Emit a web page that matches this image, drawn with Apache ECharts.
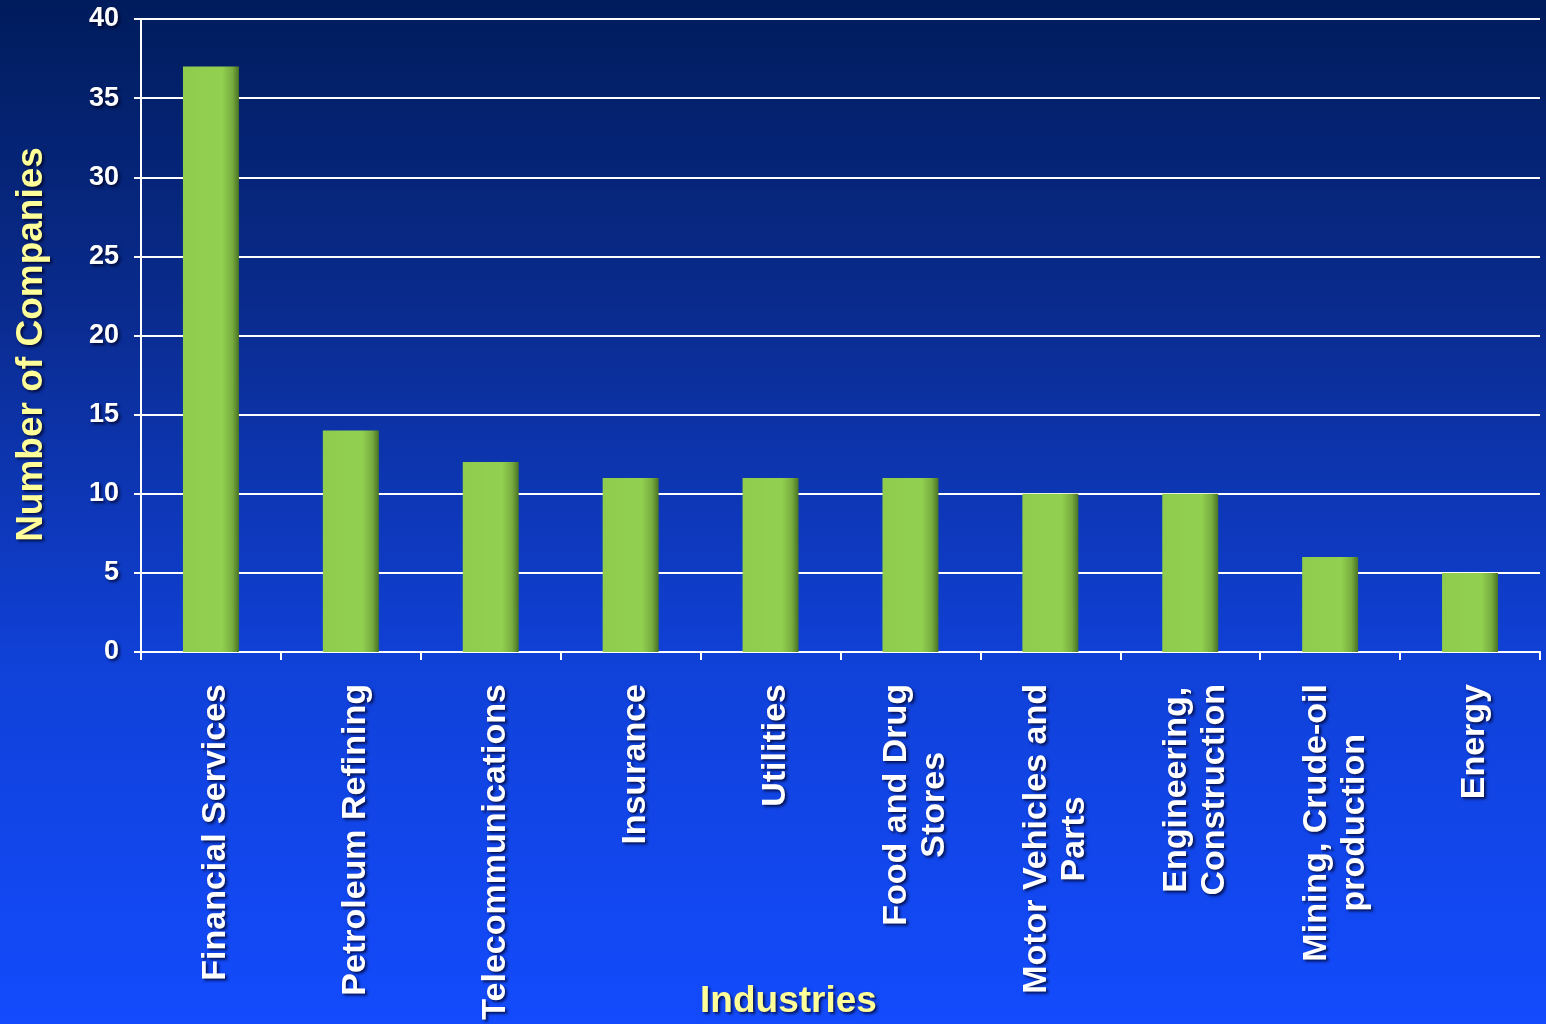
<!DOCTYPE html>
<html lang="en">
<head>
	<meta charset="utf-8" />
	<title>Industries</title>
	<script src="https://cdn.jsdelivr.net/npm/echarts@6/dist/echarts.min.js"></script>
	<style>
		html, body { margin: 0; padding: 0; }
		#chart { width: 1546px; height: 1024px; }
	</style>
</head>
<body>
	<div id="chart"></div>
	<script>
		var industries = ['Financial Services', 'Petroleum Refining', 'Telecommunications', 'Insurance', 'Utilities',
			'Food and Drug\nStores', 'Motor Vehicles and\nParts', 'Engineering,\nConstruction', 'Mining, Crude-oil\nproduction', 'Energy'];
		var companies = [37, 14, 12, 11, 11, 11, 10, 10, 6, 5];
		var yTicks = { min: 0, max: 40, interval: 5 };

		var shadow = {
			textShadowColor: 'rgba(0, 0, 30, 0.75)',
			textShadowBlur: 3,
			textShadowOffsetX: 2,
			textShadowOffsetY: 2
		};

		var chart = echarts.init(document.getElementById('chart'));
		window.onresize = chart.resize;

		var option = {
			backgroundColor: new echarts.graphic.LinearGradient(0, 0, 0, 1, [
				{ offset: 0, color: '#001c5c' },
				{ offset: 0.3, color: '#0a2b8e' },
				{ offset: 0.65, color: '#1041d8' },
				{ offset: 1, color: '#134bfd' }
			]),
			animation: false,
			grid: { left: 141, right: 6, top: 19, bottom: 372, containLabel: false, outerBoundsMode: 'none' },
			xAxis: {
				type: 'category',
				data: industries,
				name: 'Industries',
				nameLocation: 'middle',
				nameMoveOverlap: false,
				nameGap: 331,
				nameTextStyle: Object.assign({
					color: '#ffff99', fontFamily: 'Liberation Sans', fontWeight: 'bold', fontSize: 37,
					padding: [0, 104, 0, 0]
				}, shadow),
				axisLine: { lineStyle: { color: '#ffffff', width: 2 } },
				axisTick: { show: true, length: 8, lineStyle: { color: '#ffffff', width: 2 } },
				axisLabel: {
					interval: 0,
					rotate: 90,
					margin: 32,
					padding: [10, 0, 0, 0],
					formatter: function (v) {
						return v.split('\n').map(function (l) { return '{c|' + l + '}'; }).join('\n');
					},
					rich: {
						c: Object.assign({
							align: 'center', color: '#ffffff', fontFamily: 'Liberation Sans', fontWeight: 'bold',
							fontSize: 34, lineHeight: 38
						}, shadow)
					}
				}
			},
			yAxis: {
				type: 'value',
				min: yTicks.min,
				max: yTicks.max,
				interval: yTicks.interval,
				name: 'Number of Companies',
				nameLocation: 'middle',
				nameMoveOverlap: false,
				nameGap: 91,
				nameTextStyle: Object.assign({
					color: '#ffff99', fontFamily: 'Liberation Sans', fontWeight: 'bold', fontSize: 37,
					padding: [0, 18, 0, 0]
				}, shadow),
				axisLine: { show: true, lineStyle: { color: '#ffffff', width: 2 } },
				axisTick: { show: true, length: 7, lineStyle: { color: '#ffffff', width: 2 } },
				axisLabel: Object.assign({
					margin: 22, color: '#ffffff', fontFamily: 'Liberation Sans', fontWeight: 'bold', fontSize: 27
				}, shadow),
				splitLine: { lineStyle: { color: '#ffffff', width: 2 } }
			},
			series: [{
				type: 'bar',
				data: companies,
				barWidth: '40%',
				itemStyle: {
					color: new echarts.graphic.LinearGradient(0, 0, 1, 0, [
						{ offset: 0, color: '#8fcc4e' },
						{ offset: 0.7, color: '#92d050' },
						{ offset: 0.88, color: '#78ad3f' },
						{ offset: 1, color: '#4a7324' }
					])
				}
			}]
		};
		chart.setOption(option);
	</script>
</body>
</html>
